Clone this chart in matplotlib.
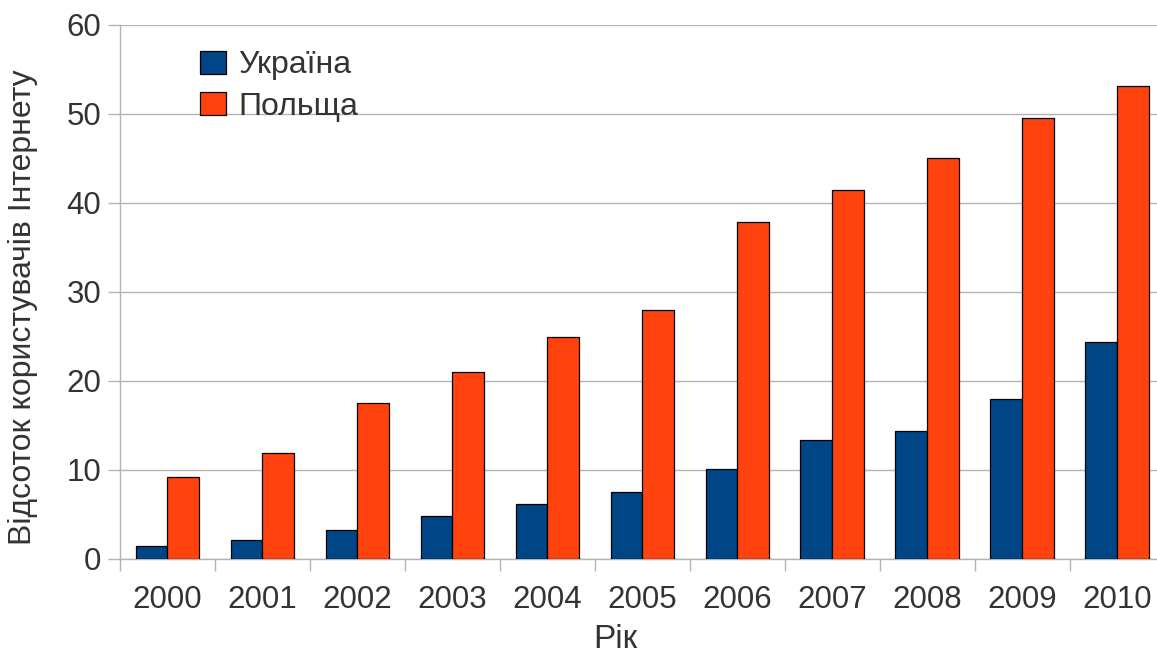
import numpy as np
import matplotlib
matplotlib.use("Agg")
import matplotlib.pyplot as plt
from matplotlib.ticker import FixedLocator

# ==========================================
# DATA
# ==========================================
years = ["2000", "2001", "2002", "2003", "2004", "2005",
         "2006", "2007", "2008", "2009", "2010"]
ukraine = [1.4, 2.1, 3.2, 4.8, 6.1, 7.5, 10.1, 13.3, 14.4, 18.0, 24.4]
poland = [9.2, 11.9, 17.5, 21.0, 24.9, 28.0, 37.9, 41.5, 45.0, 49.5, 53.1]

series_names = ["Україна", "Польща"]
y_label = "Відсоток користувачів Інтернету"
x_label = "Рік"

# ==========================================
# STYLE
# ==========================================
plt.rcParams['font.family'] = ['Liberation Sans', 'DejaVu Sans']
TEXT_COLOR = '#333333'
GRID_COLOR = '#b3b3b3'
BLUE = '#004586'
ORANGE = '#ff420e'
W, H = 1157, 653

fig = plt.figure(figsize=(W / 100, H / 100), dpi=100)
ax = fig.add_axes([120 / W, 1 - 558.7 / H, 1044.7 / W, 533.7 / H])

x = np.arange(len(years))
bw = 0.335
ax.bar(x - bw / 2, ukraine, bw, color=BLUE, edgecolor='black', linewidth=0.9,
       label=series_names[0], zorder=3)
ax.bar(x + bw / 2, poland, bw, color=ORANGE, edgecolor='black', linewidth=0.9,
       label=series_names[1], zorder=3)

ax.set_xlim(-0.5, len(years) - 0.5)
ax.set_ylim(0, 60)
ax.set_yticks(np.arange(0, 61, 10))
ax.yaxis.grid(True, color=GRID_COLOR, linewidth=1.0, zorder=0)
ax.set_axisbelow(True)

# category labels at centres, tick marks at the boundaries
ax.set_xticks(x)
ax.set_xticklabels(years)
ax.xaxis.set_minor_locator(FixedLocator(np.arange(-0.5, len(years), 1.0)))
ax.tick_params(axis='x', which='major', length=0, pad=19,
               labelsize=22.5, labelcolor=TEXT_COLOR)
ax.tick_params(axis='x', which='minor', length=8.6, width=1.0,
               color=GRID_COLOR, direction='out')
ax.tick_params(axis='y', length=8.6, width=1.0, color=GRID_COLOR,
               direction='out', pad=5, labelsize=22.5, labelcolor=TEXT_COLOR)

for side in ('top', 'right'):
    ax.spines[side].set_visible(False)
for side in ('left', 'bottom'):
    ax.spines[side].set_color(GRID_COLOR)
    ax.spines[side].set_linewidth(1.0)

fig.text(23 / W, 1 - 307 / H, y_label, rotation=90, ha='center', va='center',
         fontsize=23, color=TEXT_COLOR)
fig.text(615 / W, 1 - 648 / H, x_label, ha='center', va='baseline',
         fontsize=24, color=TEXT_COLOR)

leg = ax.legend(loc='upper left', bbox_to_anchor=(200 / W, 1 - 50.5 / H),
                bbox_transform=fig.transFigure, frameon=False, fontsize=23,
                handlelength=0.82, handleheight=0.75, handletextpad=0.38,
                labelspacing=0.35, borderpad=0, borderaxespad=0)
for t in leg.get_texts():
    t.set_color(TEXT_COLOR)

fig.savefig('out.png', dpi=100)
